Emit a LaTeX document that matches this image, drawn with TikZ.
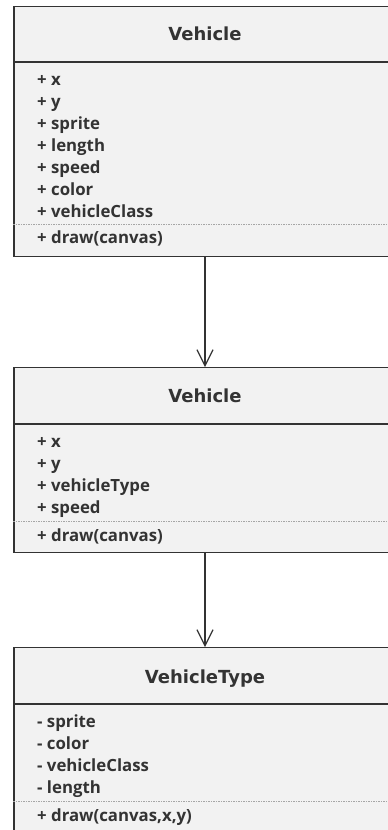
\documentclass[tikz,border=0pt]{standalone}
\usepackage{fontspec}
\setmainfont{Open Sans}
\newfontfamily\titlefont{DejaVu Sans}
\usetikzlibrary{%
        arrows.meta,
        positioning}
\definecolor{umlfill}{HTML}{F2F2F2}
\definecolor{umlline}{HTML}{333333}
\definecolor{umltext}{HTML}{333333}
\tikzset{%
    classbox/.style={draw=umlline, fill=umlfill, line width=1.4pt,
        rectangle, minimum width=382pt, inner sep=0pt, anchor=north},
    classname/.style={font=\titlefont\bfseries\fontsize{18}{21}\selectfont,
        text=umltext, anchor=base, inner sep=0pt},
    member/.style={font=\bfseries\fontsize{16.8}{20}\selectfont,
        text=umltext, anchor=base west, inner sep=0pt},
    divider/.style={draw=umlline, line width=1.4pt},
    opsline/.style={draw=gray!70, line width=0.6pt,
        dash pattern=on 1.5pt off 1pt},
    assoc/.style={draw=umlline, line width=1.2pt,
        -{Straight Barb[length=16pt, width=16pt, line width=1.2pt]}}
}

\begin{document}
\begin{tikzpicture}

    \useasboundingbox (0, 0) rectangle (388pt, -830pt);

    % flat Vehicle
    \node[classbox, minimum height=250pt] (vehicleFlat) at (205pt, -6pt) {};
    \node[classname] (vehicleFlatName) at (205pt, -40pt) {Vehicle};
    \draw[divider] ([yshift=-56pt] vehicleFlat.north west) --
        ([yshift=-56pt] vehicleFlat.north east);
    \foreach \member [count=\i] in {+ x, + y, + sprite, + length, + speed,
        + color, + vehicleClass}{%
        \node[member] (vehicleFlat-\i) at (37pt, {-85pt-(\i-1)*22pt}) {\member};
    };
    \draw[opsline] ([yshift=-218pt] vehicleFlat.north west) --
        ([yshift=-218pt] vehicleFlat.north east);
    \node[member] (vehicleFlatDraw) at (37pt, -243pt) {+ draw(canvas)};

    % Vehicle with a type
    \node[classbox, minimum height=185pt] (vehicle) at (205pt, -367pt) {};
    \node[classname] (vehicleName) at (205pt, -402pt) {Vehicle};
    \draw[divider] ([yshift=-57pt] vehicle.north west) --
        ([yshift=-57pt] vehicle.north east);
    \foreach \member [count=\i] in {+ x, + y, + vehicleType, + speed}{%
        \node[member] (vehicle-\i) at (37pt, {-447pt-(\i-1)*22pt}) {\member};
    };
    \draw[opsline] ([yshift=-154pt] vehicle.north west) --
        ([yshift=-154pt] vehicle.north east);
    \node[member] (vehicleDraw) at (37pt, -541pt) {+ draw(canvas)};

    % VehicleType
    \node[classbox, minimum height=192pt] (vehicleType) at (205pt, -647pt) {};
    \node[classname] (vehicleTypeName) at (205pt, -683pt) {VehicleType};
    \draw[divider] ([yshift=-57pt] vehicleType.north west) --
        ([yshift=-57pt] vehicleType.north east);
    \foreach \member [count=\i] in {- sprite, - color, - vehicleClass,
        - length}{%
        \node[member] (vehicleType-\i) at (37pt, {-727pt-(\i-1)*22pt}) {\member};
    };
    \draw[opsline] ([yshift=-154pt] vehicleType.north west) --
        ([yshift=-154pt] vehicleType.north east);
    \node[member] (vehicleTypeDraw) at (37pt, -821pt) {+ draw(canvas,x,y)};

    \draw[assoc] (vehicleFlat.south) -- (vehicle.north);
    \draw[assoc] (vehicle.south) -- (vehicleType.north);

\end{tikzpicture}
\end{document}
